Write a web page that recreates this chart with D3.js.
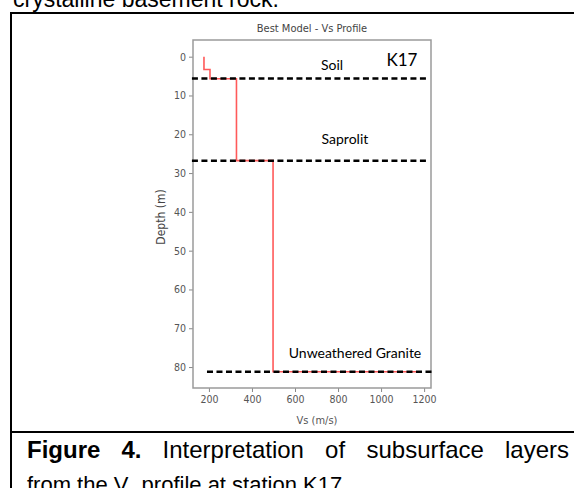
<!DOCTYPE html>
<html>
<head>
<meta charset="utf-8">
<script src="https://cdn.jsdelivr.net/npm/d3@7"></script>
<style>
  body { margin: 0; background: #fff; }
  svg { display: block; }
</style>
</head>
<body>
<svg id="page" width="574" height="488"></svg>
<script>
// layer model (depth in m, Vs in m/s)
var layerTop = [0, 3.3, 5.7, 26.8, 81.2];
var layerVs = [177, 205, 328, 498, 1180];

// interpreted boundaries
var boundaryDepth = [5.6, 26.8, 81.2];
var boundaryFrom = [121, 121, 191];
var boundaryTo = [1212, 1212, 1235];
var layerNames = ["Soil", "Saprolit", "Unweathered Granite"];
var layerNameVs = [772, 832, 879];
var layerNameDepth = [3.5, 22.5, 77.6];

var xTicks = [200, 400, 600, 800, 1000, 1200];
var yTicks = [0, 10, 20, 30, 40, 50, 60, 70, 80];

var svg = d3.select("#page");
var bodyFont = "Liberation Sans, Arial, sans-serif";

// page text and figure box
svg.append("text")
    .attr("x", 13).attr("y", 7)
    .style("font-family", bodyFont)
    .style("font-size", "23px")
    .text("crystalline basement rock.");

var box = svg.append("g").attr("fill", "none").attr("stroke", "#000").attr("stroke-width", 2);
box.append("line").attr("x1", 11).attr("x2", 576).attr("y1", 13).attr("y2", 13);
box.append("line").attr("x1", 11).attr("x2", 11).attr("y1", 12).attr("y2", 490);
box.append("line").attr("x1", 10).attr("x2", 576).attr("y1", 432).attr("y2", 432);

// caption, first line justified word by word
var capWords = [["Figure", true], ["4.", true], ["Interpretation", false], ["of", false], ["subsurface", false], ["layers", false]];
var capNodes = capWords.map(function(w){
  return svg.append("text")
      .attr("y", 458)
      .style("font-family", bodyFont)
      .style("font-size", "24px")
      .style("font-weight", w[1] ? "bold" : "normal")
      .text(w[0]);
});
var widths = capNodes.map(function(n){ return n.node().getBBox().width; });
var gap = ((569 - 27) - d3.sum(widths)) / (capWords.length - 1);
var cx = 27;
capNodes.forEach(function(n, i){
  n.attr("x", cx);
  cx += widths[i] + gap;
});

var cap2 = svg.append("text")
    .attr("x", 27).attr("y", 492)
    .style("font-family", bodyFont)
    .style("font-size", "22px");
cap2.append("tspan").text("from the V");
cap2.append("tspan").attr("dy", 5).style("font-size", "14px").text("s");
cap2.append("tspan").attr("dy", -5).text(" profile at station K17");

// chart
var plotLeft = 193, plotRight = 431, plotTop = 40, plotBottom = 388;

var x = d3.scaleLinear().domain([126, 1232]).range([plotLeft, plotRight]);
var y = d3.scaleLinear().domain([-4.3, 85.4]).range([plotTop, plotBottom]);

var tickFont = "Liberation Sans Narrow, DejaVu Sans Condensed, sans-serif";

svg.append("text")
    .attr("x", 312).attr("y", 32)
    .attr("text-anchor", "middle")
    .style("font-family", tickFont)
    .style("font-size", "11px")
    .style("fill", "#444")
    .text("Best Model - Vs Profile");

var xAxis = svg.append("g")
    .attr("transform", "translate(0," + plotBottom + ")")
    .call(d3.axisBottom(x).tickValues(xTicks).tickFormat(d3.format("d")).tickSize(4).tickPadding(4));
var yAxis = svg.append("g")
    .attr("transform", "translate(" + plotLeft + ",0)")
    .call(d3.axisLeft(y).tickValues(yTicks).tickFormat(d3.format("d")).tickSize(4).tickPadding(3));

[xAxis, yAxis].forEach(function(a){
  a.select(".domain").remove();
  a.selectAll("line").attr("stroke", "#888");
  a.selectAll("text")
      .style("font-family", tickFont)
      .style("font-size", "10.5px")
      .attr("fill", "#555");
});

svg.append("rect")
    .attr("x", plotLeft).attr("y", plotTop)
    .attr("width", plotRight - plotLeft).attr("height", plotBottom - plotTop)
    .attr("fill", "none")
    .attr("stroke", "#9a9a9a")
    .attr("stroke-width", 1.5);

svg.append("text")
    .attr("transform", "translate(165,217) rotate(-90)")
    .attr("text-anchor", "middle")
    .style("font-family", tickFont)
    .style("font-size", "12px")
    .style("fill", "#444")
    .text("Depth (m)");

svg.append("text")
    .attr("x", 317).attr("y", 424)
    .attr("text-anchor", "middle")
    .style("font-family", tickFont)
    .style("font-size", "11px")
    .style("fill", "#555")
    .text("Vs (m/s)");

// step profile
var pts = [];
layerTop.forEach(function(d, i){
  pts.push([layerVs[i], d]);
  if (i < layerTop.length - 1) pts.push([layerVs[i], layerTop[i + 1]]);
});

svg.append("path")
    .datum(pts)
    .attr("fill", "none")
    .attr("stroke", "#ff5a5a")
    .attr("stroke-width", 1.6)
    .attr("d", d3.line().x(function(d){ return x(d[0]); }).y(function(d){ return y(d[1]); }));

// boundaries
boundaryDepth.forEach(function(d, i){
  svg.append("line")
      .attr("x1", x(boundaryFrom[i])).attr("x2", x(boundaryTo[i]))
      .attr("y1", y(d)).attr("y2", y(d))
      .attr("stroke", "#000")
      .attr("stroke-width", 2.5)
      .attr("stroke-dasharray", "6,3.5");
  svg.append("text")
      .attr("x", x(layerNameVs[i])).attr("y", y(layerNameDepth[i]))
      .attr("text-anchor", "middle")
      .style("font-family", "Lato, Open Sans, sans-serif")
      .style("font-size", "14px")
      .text(layerNames[i]);
});

svg.append("text")
    .attr("x", 402).attr("y", 66)
    .attr("text-anchor", "middle")
    .style("font-family", "Lato, Open Sans, sans-serif")
    .style("font-size", "17px")
    .text("K17");
</script>
</body>
</html>
